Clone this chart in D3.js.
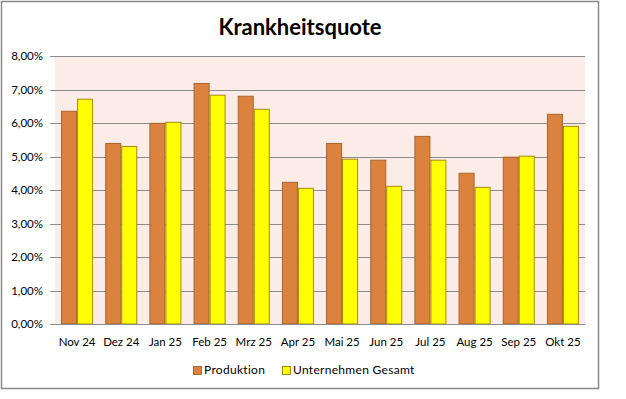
<!DOCTYPE html>
<html>
<head>
<meta charset="utf-8">
<script src="https://cdn.jsdelivr.net/npm/d3@7"></script>
<style>
  body { margin: 0; background: #fff; }
  svg { font-family: Lato, "Open Sans", sans-serif; }
</style>
</head>
<body>
<svg id="chart" width="626" height="399"></svg>
<script>
const months = ['Nov 24', 'Dez 24', 'Jan 25', 'Feb 25', 'Mrz 25', 'Apr 25', 'Mai 25', 'Jun 25', 'Jul 25', 'Aug 25', 'Sep 25', 'Okt 25'];
const produktion = [6.35, 5.39, 5.99, 7.18, 6.80, 4.23, 5.39, 4.89, 5.60, 4.50, 4.98, 6.26];
const gesamt = [6.71, 5.30, 6.02, 6.83, 6.41, 4.05, 4.92, 4.11, 4.89, 4.08, 5.01, 5.90];
const seriesNames = ['Produktion', 'Unternehmen Gesamt'];
const yTicks = [0, 1, 2, 3, 4, 5, 6, 7, 8];

const colors = ['#DA823E', '#FFFF00'];
const strokes = ['#A8652C', '#A88A10'];

const svg = d3.select('#chart');

// frame
svg.append('rect')
    .attr('x', 1.5).attr('y', 1.5)
    .attr('width', 597).attr('height', 387)
    .attr('fill', '#fff')
    .attr('stroke', '#888')
    .attr('stroke-width', 1.5);

const plotLeft = 55, plotRight = 585, plotTop = 56, plotBottom = 324;

const x = d3.scaleBand()
    .domain(months)
    .range([plotLeft, plotRight])
    .paddingInner(0.275)
    .paddingOuter(0.1375);

const sub = d3.scaleBand()
    .domain(seriesNames)
    .range([0, x.bandwidth()]);

const y = d3.scaleLinear()
    .domain([0, 8])
    .range([plotBottom, plotTop]);

// plot background
svg.append('rect')
    .attr('x', plotLeft).attr('y', plotTop)
    .attr('width', plotRight - plotLeft).attr('height', plotBottom - plotTop)
    .attr('fill', '#FBECE7');

// gridlines
svg.append('g')
    .selectAll('line')
    .data(yTicks)
    .join('line')
    .attr('x1', plotLeft - 5)
    .attr('x2', plotRight)
    .attr('y1', d => Math.round(y(d)) + 0.5)
    .attr('y2', d => Math.round(y(d)) + 0.5)
    .attr('stroke', '#8C8C8C');

// y labels
svg.append('g')
    .selectAll('text')
    .data(yTicks)
    .join('text')
    .attr('x', 43)
    .attr('y', d => y(d))
    .attr('dy', '0.35em')
    .attr('text-anchor', 'end')
    .attr('font-size', 11.5)
    .attr('fill', '#000')
    .text(d => d3.format('.2f')(d).replace('.', ',') + '%');

// bars
const rows = months.map((m, i) => ({month: m, values: [produktion[i], gesamt[i]]}));
const groups = svg.append('g')
    .selectAll('g')
    .data(rows)
    .join('g')
    .attr('transform', d => `translate(${x(d.month)},0)`);

groups.selectAll('rect')
    .data(d => d.values.map((v, k) => ({name: seriesNames[k], value: v, k})))
    .join('rect')
    .attr('x', d => sub(d.name) + 0.5)
    .attr('y', d => y(d.value))
    .attr('width', sub.bandwidth() - 1)
    .attr('height', d => y(0) - y(d.value))
    .attr('fill', d => colors[d.k])
    .attr('stroke', d => strokes[d.k])
    .attr('stroke-width', 1);

// x axis line
svg.append('line')
    .attr('x1', plotLeft).attr('x2', plotRight)
    .attr('y1', plotBottom + 0.5).attr('y2', plotBottom + 0.5)
    .attr('stroke', '#8C8C8C');

// x labels
svg.append('g')
    .selectAll('text')
    .data(months)
    .join('text')
    .attr('x', d => x(d) + x.bandwidth() / 2)
    .attr('y', 342)
    .attr('dy', '0.35em')
    .attr('text-anchor', 'middle')
    .attr('font-size', 11.5)
    .text(d => d);

// title
svg.append('text')
    .attr('x', 300)
    .attr('y', 27)
    .attr('dy', '0.35em')
    .attr('text-anchor', 'middle')
    .attr('font-size', 22)
    .attr('font-weight', 'bold')
    .text('Krankheitsquote');

// legend
const legendX = [193, 282];
const legend = svg.append('g')
    .selectAll('g')
    .data(seriesNames)
    .join('g')
    .attr('transform', (d, i) => `translate(${legendX[i]},370)`);
legend.append('rect')
    .attr('x', 0.5).attr('y', -3.5)
    .attr('width', 8).attr('height', 8)
    .attr('fill', (d, i) => colors[i])
    .attr('stroke', (d, i) => strokes[i]);
legend.append('text')
    .attr('x', 11)
    .attr('y', 0)
    .attr('dy', '0.35em')
    .attr('font-size', 12)
    .attr('letter-spacing', 0.3)
    .text(d => d);
</script>
</body>
</html>
